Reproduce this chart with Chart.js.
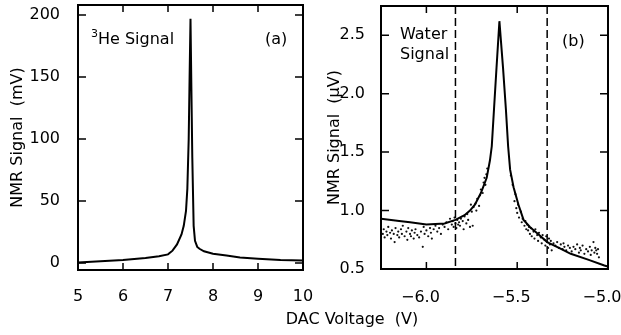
<!DOCTYPE html>
<html>
<head>
<meta charset="utf-8">
<script src="https://cdn.jsdelivr.net/npm/chart.js@4.4.0/dist/chart.umd.min.js"></script>
<style>
  html, body { margin: 0; padding: 0; background: #fff; }
  #wrap { position: relative; width: 621px; height: 335px; overflow: hidden; }
  canvas { position: absolute; top: 0; }
  #left { left: 0; }
  #right { left: 306px; }
  #xtitle { position: absolute; left: 252px; width: 200px; top: 309px; line-height: 20px;
            text-align: center; font: 16px 'DejaVu Sans'; color: #000; white-space: pre; }
</style>
</head>
<body>
<div id="wrap">
  <canvas id="left" width="315" height="335"></canvas>
  <canvas id="right" width="315" height="335"></canvas>
  <div id="xtitle">DAC Voltage  (V)</div>
</div>
<script>
// (a) 3He signal
const heX = [5.0, 5.5, 6.0, 6.5, 6.8, 7.0, 7.1, 7.2, 7.3, 7.35, 7.4, 7.43, 7.46, 7.48, 7.5,
             7.52, 7.54, 7.57, 7.6, 7.65, 7.7, 7.8, 8.0, 8.3, 8.6, 9.0, 9.5, 10.0];
const heY = [0.5, 1.5, 2.5, 4, 5.5, 7, 10, 15, 23, 30, 42, 60, 100, 150, 197,
             140, 85, 30, 18, 13, 11.5, 9.5, 7.5, 6, 4.5, 3.5, 2.5, 2];
const heXTicks = [5, 6, 7, 8, 9, 10];
const heYTicks = [0, 50, 100, 150, 200];

// (b) water signal, fitted curve
const waterX = [-6.25, -6.15, -6.09, -6.0, -5.9, -5.84, -5.79, -5.76, -5.733, -5.70, -5.668, -5.65,
                -5.64, -5.628, -5.614, -5.598, -5.578, -5.562, -5.55, -5.539, -5.52, -5.493, -5.465,
                -5.43, -5.39, -5.335, -5.27, -5.205, -5.11, -5.02, -5.0];
const waterY = [0.93, 0.91, 0.90, 0.88, 0.89, 0.92, 0.96, 1.00, 1.05, 1.15, 1.28, 1.43,
                1.55, 1.86, 2.22, 2.62, 2.22, 1.86, 1.55, 1.35, 1.20, 1.05, 0.92,
                0.86, 0.805, 0.73, 0.68, 0.63, 0.58, 0.53, 0.52];

// (b) measured points
const dotX = [-6.24, -6.235, -6.23, -6.22, -6.215, -6.21, -6.20, -6.195, -6.19, -6.18, -6.175, -6.17,
  -6.16, -6.155, -6.15, -6.14, -6.135, -6.13, -6.12, -6.11, -6.105, -6.10, -6.09, -6.085, -6.08,
  -6.07, -6.065, -6.06, -6.05, -6.04, -6.03, -6.02, -6.015, -6.01, -6.00, -5.99, -5.98, -5.975,
  -5.97, -5.96, -5.95, -5.94, -5.93, -5.92, -5.91, -5.90, -5.89, -5.88, -5.87, -5.86,
  -5.855, -5.85, -5.845, -5.84, -5.835, -5.83, -5.825, -5.82, -5.815, -5.81, -5.80, -5.795,
  -5.79, -5.78, -5.775, -5.77, -5.76, -5.755, -5.75, -5.745, -5.74,
  -5.73, -5.725, -5.72, -5.71, -5.705, -5.70, -5.69, -5.685, -5.68, -5.675, -5.67, -5.665,
  -5.535, -5.525, -5.515, -5.51, -5.505, -5.50, -5.495, -5.49, -5.48, -5.475, -5.47, -5.46,
  -5.455, -5.45, -5.445, -5.44, -5.435, -5.43, -5.425, -5.42, -5.41, -5.405, -5.40, -5.39,
  -5.385, -5.38, -5.37, -5.365, -5.36, -5.35, -5.345, -5.34, -5.335, -5.33, -5.325, -5.32,
  -5.315, -5.31, -5.30,
  -5.29, -5.28, -5.27, -5.26, -5.25, -5.245, -5.24, -5.23, -5.22, -5.21, -5.20, -5.19, -5.18,
  -5.17, -5.16, -5.155, -5.15, -5.14, -5.13, -5.12, -5.11, -5.10, -5.095, -5.09, -5.08, -5.075,
  -5.07, -5.065, -5.06, -5.055, -5.05];
const dotY = [0.80, 0.84, 0.77, 0.82, 0.79, 0.86, 0.81, 0.76, 0.83, 0.80, 0.73, 0.85,
  0.79, 0.82, 0.77, 0.84, 0.80, 0.87, 0.78, 0.82, 0.75, 0.85, 0.80, 0.78, 0.83,
  0.76, 0.81, 0.84, 0.79, 0.77, 0.82, 0.69, 0.86, 0.80, 0.83, 0.78, 0.85, 0.81,
  0.76, 0.84, 0.87, 0.82, 0.85, 0.80, 0.88, 0.86, 0.90, 0.84, 0.93, 0.88,
  0.91, 0.86, 0.94, 0.89, 0.85, 0.92, 0.88, 0.90, 0.87, 0.93, 0.91, 0.84,
  0.95, 0.89, 0.97, 0.92, 0.86, 1.05, 0.99, 0.87, 1.03,
  1.06, 1.00, 1.10, 1.04, 1.13, 1.18, 1.15, 1.24, 1.28, 1.22, 1.31, 1.36,
  1.30, 1.22, 1.08, 1.14, 1.02, 0.98, 1.05, 0.94, 0.99, 0.90, 0.93, 0.87,
  0.91, 0.84, 0.88, 0.83, 0.86, 0.80, 0.85, 0.78, 0.82, 0.76, 0.84, 0.79,
  0.74, 0.81, 0.77, 0.72, 0.79, 0.75, 0.70, 0.78, 0.73, 0.68, 0.76, 0.71,
  0.74, 0.66, 0.72,
  0.70, 0.73, 0.68, 0.71, 0.67, 0.72, 0.69, 0.66, 0.70, 0.68, 0.65, 0.69, 0.67,
  0.71, 0.64, 0.68, 0.66, 0.70, 0.63, 0.67, 0.65, 0.69, 0.62, 0.66, 0.73, 0.64,
  0.68, 0.66, 0.63, 0.67, 0.60];
const markerX = [-5.84, -5.335];
const waterXTicks = [-6.0, -5.5, -5.0];
const waterYTicks = [0.5, 1.0, 1.5, 2.0, 2.5];

Chart.defaults.font.family = "'DejaVu Sans', sans-serif";
Chart.defaults.font.size = 16;
Chart.defaults.color = '#000';

const toPoints = (xs, ys) => xs.map((x, i) => ({ x: x, y: ys[i] }));

// box, inward ticks, dashed markers and panel notes
const framePlugin = {
  id: 'frame',
  afterDatasetsDraw(chart, args, opts) {
    const { ctx, chartArea: a } = chart;
    const x = chart.scales.x, y = chart.scales.y;
    ctx.save();
    ctx.strokeStyle = '#000';
    if (opts.dashes) {
      ctx.lineWidth = 1.5;
      ctx.setLineDash([8, 4]);
      opts.dashes.forEach(v => {
        const px = x.getPixelForValue(v);
        ctx.beginPath();
        ctx.moveTo(px, a.top);
        ctx.lineTo(px, a.bottom);
        ctx.stroke();
      });
      ctx.setLineDash([]);
    }
    ctx.lineWidth = 1.5;
    ctx.beginPath();
    x.ticks.forEach(t => {
      const px = x.getPixelForValue(t.value);
      ctx.moveTo(px, a.bottom); ctx.lineTo(px, a.bottom - 7);
      ctx.moveTo(px, a.top); ctx.lineTo(px, a.top + 7);
    });
    y.ticks.forEach(t => {
      const py = y.getPixelForValue(t.value);
      ctx.moveTo(a.left, py); ctx.lineTo(a.left + 8, py);
      ctx.moveTo(a.right, py); ctx.lineTo(a.right - 8, py);
    });
    ctx.stroke();
    ctx.lineWidth = 2;
    ctx.strokeRect(a.left, a.top, a.width, a.height);

    ctx.fillStyle = '#000';
    ctx.textBaseline = 'middle';
    (opts.notes || []).forEach(n => {
      ctx.font = n.size + "px 'DejaVu Sans'";
      ctx.fillText(n.text, n.x, n.y);
    });
    ctx.restore();
  }
};

function fixScale(size, vertical) {
  return function (scale) {
    if (vertical) scale.width = size; else scale.height = size;
    scale.paddingTop = 0; scale.paddingBottom = 0;
    scale.paddingLeft = 0; scale.paddingRight = 0;
  };
}

function setTicks(values) {
  return function (scale) {
    scale.ticks = values.map(v => ({ value: v }));
  };
}

new Chart(document.getElementById('left'), {
  type: 'scatter',
  data: {
    datasets: [{
      data: toPoints(heX, heY),
      showLine: true,
      borderColor: '#000',
      borderWidth: 2,
      pointRadius: 0,
      tension: 0
    }]
  },
  options: {
    responsive: false,
    animation: false,
    layout: { padding: { top: 5, right: 12, left: 0, bottom: 0 } },
    plugins: {
      legend: { display: false },
      tooltip: { enabled: false },
      frame: {
        notes: [
          { text: '3', size: 11, x: 91, y: 34 },
          { text: 'He Signal', size: 16, x: 98, y: 40 },
          { text: '(a)', size: 16, x: 265, y: 40 }
        ]
      }
    },
    scales: {
      x: {
        type: 'linear', min: 5, max: 10,
        grid: { display: false }, border: { display: false },
        ticks: { padding: 9, maxRotation: 0, callback: v => String(v) },
        afterBuildTicks: setTicks(heXTicks),
        afterFit: fixScale(65, false)
      },
      y: {
        type: 'linear', min: -5.6, max: 208,
        grid: { display: false }, border: { display: false },
        ticks: { padding: 10, callback: v => String(v) },
        afterBuildTicks: setTicks(heYTicks),
        afterFit: fixScale(78, true),
        title: { display: true, text: 'NMR Signal  (mV)', padding: { top: 8, bottom: 0 } }
      }
    }
  },
  plugins: [framePlugin]
});

new Chart(document.getElementById('right'), {
  type: 'scatter',
  data: {
    datasets: [{
      data: toPoints(waterX, waterY),
      showLine: true,
      borderColor: '#000',
      borderWidth: 2,
      pointRadius: 0,
      tension: 0
    }, {
      data: toPoints(dotX, dotY),
      pointRadius: 1.1,
      pointBorderWidth: 0,
      pointBackgroundColor: '#111'
    }]
  },
  options: {
    responsive: false,
    animation: false,
    layout: { padding: { top: 6, right: 13, left: 0, bottom: 0 } },
    plugins: {
      legend: { display: false },
      tooltip: { enabled: false },
      frame: {
        dashes: markerX,
        notes: [
          { text: 'Water', size: 16, x: 94, y: 35 },
          { text: 'Signal', size: 16, x: 94, y: 55 },
          { text: '(b)', size: 16, x: 256, y: 42 }
        ]
      }
    },
    scales: {
      x: {
        type: 'linear', min: -6.25, max: -5.0,
        grid: { display: false }, border: { display: false },
        ticks: { padding: 11, maxRotation: 0, labelOffset: -6,
                 callback: v => v.toFixed(1).replace('-', '\u2212') },
        afterBuildTicks: setTicks(waterXTicks),
        afterFit: fixScale(66, false)
      },
      y: {
        type: 'linear', min: 0.5, max: 2.75,
        grid: { display: false }, border: { display: false },
        ticks: { padding: 8, callback: v => v.toFixed(1) },
        afterBuildTicks: setTicks(waterYTicks),
        afterFit: fixScale(75, true),
        title: { display: true, text: 'NMR Signal  (\u03bcV)', padding: { top: 19, bottom: 0 } }
      }
    }
  },
  plugins: [framePlugin]
});
</script>
</body>
</html>
